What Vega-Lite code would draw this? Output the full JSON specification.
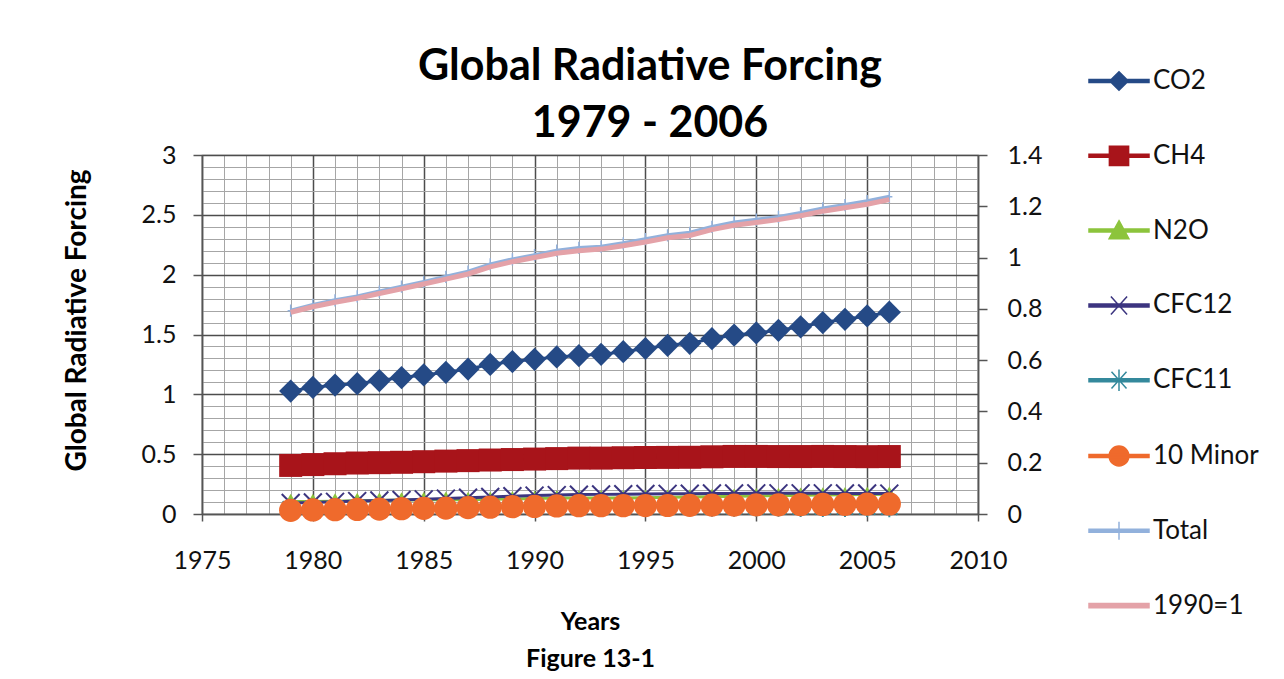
{
  "$schema": "https://vega.github.io/schema/vega-lite/v6.json",
  "width": 776,
  "height": 359,
  "autosize": "none",
  "padding": {"left": 202, "top": 155, "right": 306, "bottom": 165},
  "background": "white",
  "config": {
    "font": "Lato",
    "view": {"stroke": "#777777", "strokeWidth": 1.2},
    "axis": {"labelFont": "Lato", "labelFontSize": 25, "labelColor": "#111111", "labelFlush": false, "labelOverlap": false, "domainColor": "#555555", "domainWidth": 1.5, "tickColor": "#555555", "tickWidth": 1.5}
  },
  "title": {
    "text": ["Global Radiative Forcing", "1979 - 2006"],
    "font": "Lato",
    "fontSize": 43,
    "fontWeight": "bold",
    "color": "#000000",
    "lineHeight": 57,
    "anchor": "middle",
    "frame": "group",
    "dx": 60,
    "dy": 130,
    "baseline": "alphabetic",
    "offset": 0
  },
  "data": {
    "values": [
      {"year": 1979, "CO2": 1.027, "CH4": 0.406, "N2O": 0.104, "CFC12": 0.092, "CFC11": 0.039, "Minor": 0.031, "Total": 1.699, "AGGI": 0.786},
      {"year": 1980, "CO2": 1.058, "CH4": 0.413, "N2O": 0.104, "CFC12": 0.097, "CFC11": 0.042, "Minor": 0.034, "Total": 1.748, "AGGI": 0.808},
      {"year": 1981, "CO2": 1.077, "CH4": 0.420, "N2O": 0.107, "CFC12": 0.102, "CFC11": 0.044, "Minor": 0.036, "Total": 1.786, "AGGI": 0.826},
      {"year": 1982, "CO2": 1.089, "CH4": 0.426, "N2O": 0.111, "CFC12": 0.108, "CFC11": 0.046, "Minor": 0.038, "Total": 1.818, "AGGI": 0.841},
      {"year": 1983, "CO2": 1.115, "CH4": 0.429, "N2O": 0.113, "CFC12": 0.113, "CFC11": 0.048, "Minor": 0.041, "Total": 1.859, "AGGI": 0.860},
      {"year": 1984, "CO2": 1.140, "CH4": 0.432, "N2O": 0.116, "CFC12": 0.118, "CFC11": 0.050, "Minor": 0.044, "Total": 1.900, "AGGI": 0.878},
      {"year": 1985, "CO2": 1.162, "CH4": 0.437, "N2O": 0.118, "CFC12": 0.123, "CFC11": 0.053, "Minor": 0.047, "Total": 1.940, "AGGI": 0.897},
      {"year": 1986, "CO2": 1.184, "CH4": 0.442, "N2O": 0.122, "CFC12": 0.129, "CFC11": 0.056, "Minor": 0.049, "Total": 1.982, "AGGI": 0.916},
      {"year": 1987, "CO2": 1.211, "CH4": 0.446, "N2O": 0.120, "CFC12": 0.136, "CFC11": 0.059, "Minor": 0.053, "Total": 2.025, "AGGI": 0.936},
      {"year": 1988, "CO2": 1.250, "CH4": 0.451, "N2O": 0.123, "CFC12": 0.143, "CFC11": 0.062, "Minor": 0.057, "Total": 2.085, "AGGI": 0.964},
      {"year": 1989, "CO2": 1.274, "CH4": 0.455, "N2O": 0.126, "CFC12": 0.149, "CFC11": 0.064, "Minor": 0.061, "Total": 2.128, "AGGI": 0.984},
      {"year": 1990, "CO2": 1.293, "CH4": 0.459, "N2O": 0.129, "CFC12": 0.154, "CFC11": 0.065, "Minor": 0.063, "Total": 2.163, "AGGI": 1.000},
      {"year": 1991, "CO2": 1.313, "CH4": 0.463, "N2O": 0.133, "CFC12": 0.158, "CFC11": 0.067, "Minor": 0.067, "Total": 2.200, "AGGI": 1.017},
      {"year": 1992, "CO2": 1.324, "CH4": 0.467, "N2O": 0.134, "CFC12": 0.162, "CFC11": 0.067, "Minor": 0.069, "Total": 2.223, "AGGI": 1.027},
      {"year": 1993, "CO2": 1.334, "CH4": 0.467, "N2O": 0.134, "CFC12": 0.164, "CFC11": 0.067, "Minor": 0.069, "Total": 2.234, "AGGI": 1.033},
      {"year": 1994, "CO2": 1.356, "CH4": 0.470, "N2O": 0.134, "CFC12": 0.166, "CFC11": 0.067, "Minor": 0.069, "Total": 2.262, "AGGI": 1.046},
      {"year": 1995, "CO2": 1.383, "CH4": 0.472, "N2O": 0.136, "CFC12": 0.168, "CFC11": 0.067, "Minor": 0.070, "Total": 2.296, "AGGI": 1.061},
      {"year": 1996, "CO2": 1.410, "CH4": 0.473, "N2O": 0.139, "CFC12": 0.169, "CFC11": 0.066, "Minor": 0.071, "Total": 2.329, "AGGI": 1.077},
      {"year": 1997, "CO2": 1.426, "CH4": 0.474, "N2O": 0.142, "CFC12": 0.170, "CFC11": 0.066, "Minor": 0.072, "Total": 2.350, "AGGI": 1.086},
      {"year": 1998, "CO2": 1.465, "CH4": 0.478, "N2O": 0.145, "CFC12": 0.172, "CFC11": 0.065, "Minor": 0.074, "Total": 2.399, "AGGI": 1.109},
      {"year": 1999, "CO2": 1.495, "CH4": 0.481, "N2O": 0.148, "CFC12": 0.172, "CFC11": 0.065, "Minor": 0.075, "Total": 2.436, "AGGI": 1.126},
      {"year": 2000, "CO2": 1.513, "CH4": 0.481, "N2O": 0.151, "CFC12": 0.173, "CFC11": 0.064, "Minor": 0.076, "Total": 2.459, "AGGI": 1.137},
      {"year": 2001, "CO2": 1.535, "CH4": 0.480, "N2O": 0.153, "CFC12": 0.173, "CFC11": 0.064, "Minor": 0.077, "Total": 2.483, "AGGI": 1.148},
      {"year": 2002, "CO2": 1.564, "CH4": 0.480, "N2O": 0.156, "CFC12": 0.173, "CFC11": 0.063, "Minor": 0.079, "Total": 2.515, "AGGI": 1.163},
      {"year": 2003, "CO2": 1.600, "CH4": 0.481, "N2O": 0.158, "CFC12": 0.173, "CFC11": 0.063, "Minor": 0.080, "Total": 2.554, "AGGI": 1.181},
      {"year": 2004, "CO2": 1.627, "CH4": 0.480, "N2O": 0.160, "CFC12": 0.172, "CFC11": 0.062, "Minor": 0.081, "Total": 2.582, "AGGI": 1.194},
      {"year": 2005, "CO2": 1.655, "CH4": 0.479, "N2O": 0.163, "CFC12": 0.172, "CFC11": 0.062, "Minor": 0.083, "Total": 2.614, "AGGI": 1.208},
      {"year": 2006, "CO2": 1.686, "CH4": 0.480, "N2O": 0.165, "CFC12": 0.171, "CFC11": 0.061, "Minor": 0.084, "Total": 2.651, "AGGI": 1.226}
    ]
  },
  "encoding": {
    "x": {
      "field": "year",
      "type": "quantitative",
      "scale": {"domain": [1975, 2010], "nice": false, "zero": false},
      "axis": {
        "values": [1975, 1976, 1977, 1978, 1979, 1980, 1981, 1982, 1983, 1984, 1985, 1986, 1987, 1988, 1989, 1990, 1991, 1992, 1993, 1994, 1995, 1996, 1997, 1998, 1999, 2000, 2001, 2002, 2003, 2004, 2005, 2006, 2007, 2008, 2009, 2010],
        "labelExpr": "datum.value % 5 === 0 ? format(datum.value, 'd') : ''",
        "tickSize": 7,
        "tickOpacity": {"condition": {"test": "datum.value % 5 === 0", "value": 1}, "value": 0},
        "labelPadding": 27,
        "grid": true,
        "gridColor": {"condition": {"test": "datum.value % 5 === 0", "value": "#4d4d4d"}, "value": "#a6a6a6"},
        "gridWidth": {"condition": {"test": "datum.value % 5 === 0", "value": 1.5}, "value": 1},
        "title": ["Years", "Figure 13-1"],
        "titleFont": "Lato",
        "titleFontSize": 25,
        "titleFontWeight": "bold",
        "titleColor": "#000000",
        "titleLineHeight": 37,
        "titleBaseline": "alphabetic",
        "titleY": 115
      }
    },
    "color": {
      "field": "k",
      "type": "nominal",
      "scale": {
        "domain": ["CO2", "CH4", "N2O", "CFC12", "CFC11", "Minor", "Total", "AGGI"],
        "range": ["#254a86", "#a8141a", "#8cc43c", "#3c3580", "#34899c", "#ef6a2c", "#92b1dc", "#e4a2a8"]
      },
      "legend": {
        "orient": "none",
        "legendX": 886,
        "legendY": -105,
        "padding": 0,
        "title": null,
        "direction": "vertical",
        "symbolSize": 3600,
        "rowPadding": 30.8,
        "labelOffset": 3,
        "labelFont": "Lato",
        "labelFontSize": 26,
        "labelColor": "#111111",
        "labelExpr": "datum.value === 'Minor' ? '10 Minor' : datum.value === 'AGGI' ? '1990=1' : datum.label",
        "encode": {
          "symbols": {
            "update": {
              "shape": {"signal": "datum.value === 'CO2' ? 'M-1,-0.05H1V0.05H-1Z M0,-0.31L0.31,0L0,0.31L-0.31,0Z' : datum.value === 'CH4' ? 'M-1,-0.05H1V0.05H-1Z M-0.32,-0.32H0.32V0.32H-0.32Z' : datum.value === 'N2O' ? 'M-1,-0.05H1V0.05H-1Z M0,-0.33L0.33,0.27H-0.33Z' : datum.value === 'CFC12' ? 'M-1,-0.05H1V0.05H-1Z M-0.27,-0.3L0.27,0.3M-0.27,0.3L0.27,-0.3' : datum.value === 'CFC11' ? 'M-1,-0.05H1V0.05H-1Z M-0.25,-0.28L0.25,0.28M-0.25,0.28L0.25,-0.28M0,-0.36V0.36' : datum.value === 'Minor' ? 'M-1,-0.05H1V0.05H-1Z M-0.33,0A0.33,0.33 0 1,1 0.33,0A0.33,0.33 0 1,1 -0.33,0Z' : datum.value === 'Total' ? 'M-1,-0.05H1V0.05H-1Z M0,-0.3V0.3' : 'M-1,-0.07H1V0.07H-1Z'"},
              "fill": {"signal": "scale('color', datum.value)"},
              "stroke": {"signal": "scale('color', datum.value)"},
              "strokeWidth": {"value": 1.5},
              "opacity": {"value": 1},
              "fillOpacity": {"value": 1},
              "strokeOpacity": {"value": 1},
              "size": {"value": 3600}
            }
          }
        }
      }
    }
  },
  "layer": [
    {
      "encoding": {
        "y": {
          "field": "v",
          "type": "quantitative",
          "scale": {"domain": [0, 3], "nice": false, "zero": true},
          "axis": {
            "values": [0, 0.1, 0.2, 0.3, 0.4, 0.5, 0.6, 0.7, 0.8, 0.9, 1, 1.1, 1.2, 1.3, 1.4, 1.5, 1.6, 1.7, 1.8, 1.9, 2, 2.1, 2.2, 2.3, 2.4, 2.5, 2.6, 2.7, 2.8, 2.9, 3],
            "labelExpr": "abs(datum.value * 2 - round(datum.value * 2)) < 0.001 ? format(datum.value, '~g') : ''",
            "tickSize": 9,
            "tickOpacity": {"condition": {"test": "abs(datum.value * 2 - round(datum.value * 2)) < 0.001", "value": 1}, "value": 0},
            "labelPadding": 17,
            "grid": true,
            "gridColor": {"condition": {"test": "abs(datum.value * 2 - round(datum.value * 2)) < 0.001", "value": "#4d4d4d"}, "value": "#a6a6a6"},
            "gridWidth": {"condition": {"test": "abs(datum.value * 2 - round(datum.value * 2)) < 0.001", "value": 1.5}, "value": 1},
            "title": "Global Radiative Forcing",
            "titleFont": "Lato",
            "titleFontSize": 28,
            "titleFontWeight": "bold",
            "titleColor": "#000000",
            "titleAngle": -90,
            "titleX": -125,
            "titleY": 165,
            "titleAlign": "center",
            "titleBaseline": "middle"
          }
        }
      },
      "layer": [
        {
          "transform": [{"fold": ["CO2"], "as": ["k", "v"]}],
          "layer": [
            {"mark": {"type": "line", "strokeWidth": 3}},
            {"mark": {"type": "point", "shape": "diamond", "filled": true, "size": 540, "opacity": 1}}
          ]
        },
        {
          "transform": [{"fold": ["CH4"], "as": ["k", "v"]}],
          "layer": [
            {"mark": {"type": "line", "strokeWidth": 3}},
            {"mark": {"type": "point", "shape": "square", "filled": true, "size": 530, "opacity": 1}}
          ]
        },
        {
          "transform": [{"fold": ["N2O"], "as": ["k", "v"]}],
          "layer": [
            {"mark": {"type": "line", "strokeWidth": 3}},
            {"mark": {"type": "point", "shape": "triangle-up", "filled": true, "size": 330, "opacity": 1}}
          ]
        },
        {
          "transform": [{"fold": ["CFC12"], "as": ["k", "v"]}],
          "layer": [
            {"mark": {"type": "line", "strokeWidth": 3}},
            {"mark": {"type": "point", "shape": "M-1,-1L1,1M-1,1L1,-1", "filled": false, "size": 320, "strokeWidth": 2, "opacity": 1}}
          ]
        },
        {
          "transform": [{"fold": ["CFC11"], "as": ["k", "v"]}],
          "layer": [
            {"mark": {"type": "line", "strokeWidth": 3}},
            {"mark": {"type": "point", "shape": "M-1,-1L1,1M-1,1L1,-1M0,-1.3V1.3", "filled": false, "size": 260, "strokeWidth": 2, "opacity": 1}}
          ]
        },
        {
          "transform": [{"fold": ["Minor"], "as": ["k", "v"]}],
          "layer": [
            {"mark": {"type": "line", "strokeWidth": 3}},
            {"mark": {"type": "point", "shape": "circle", "filled": true, "size": 540, "opacity": 1}}
          ]
        },
        {
          "transform": [{"fold": ["Total"], "as": ["k", "v"]}],
          "layer": [
            {"mark": {"type": "line", "strokeWidth": 4}},
            {"mark": {"type": "point", "shape": "M0,-1V1M-0.5,0H0.5", "filled": false, "size": 150, "strokeWidth": 1.5, "opacity": 1}}
          ]
        }
      ]
    },
    {
      "transform": [{"fold": ["AGGI"], "as": ["k", "v"]}],
      "mark": {"type": "line", "strokeWidth": 5},
      "encoding": {
        "y": {
          "field": "v",
          "type": "quantitative",
          "scale": {"domain": [0, 1.4], "nice": false, "zero": true},
          "axis": {
            "orient": "right",
            "values": [0, 0.2, 0.4, 0.6, 0.8, 1, 1.2, 1.4],
            "format": "~g",
            "grid": false,
            "tickSize": 9,
            "labelPadding": 20,
            "title": null
          }
        }
      }
    }
  ],
  "resolve": {"scale": {"y": "independent"}}
}
